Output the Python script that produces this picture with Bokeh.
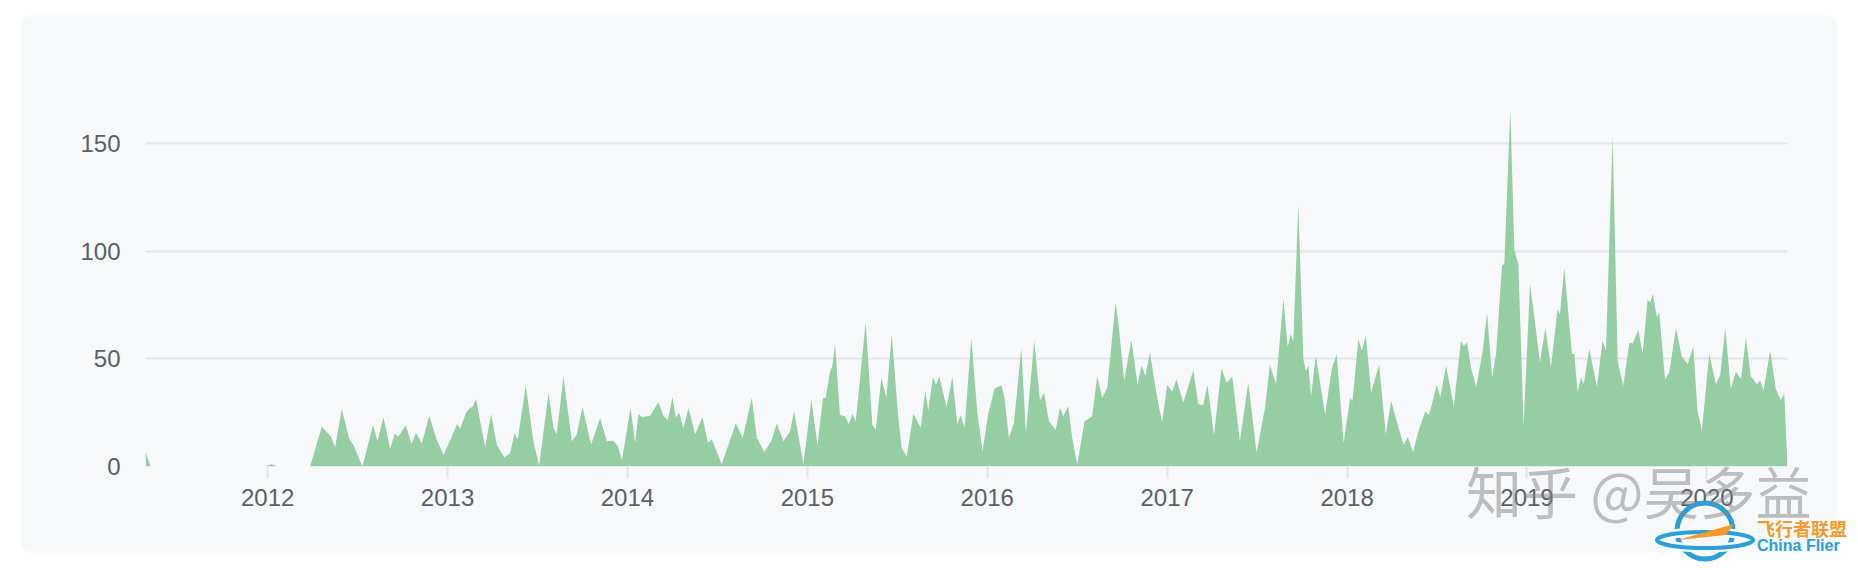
from bokeh.plotting import figure
from bokeh.models import FixedTicker, Div
from bokeh.layouts import column
from bokeh.embed import file_html
from bokeh.resources import INLINE

# Week position (decimal year) and commits per week
week = [
    2011.321, 2011.349, 2011.980, 2012.022, 2012.058, 2012.236, 2012.301, 2012.332, 2012.351, 2012.375,
    2012.412, 2012.453, 2012.481, 2012.503, 2012.527, 2012.586, 2012.610, 2012.644, 2012.681, 2012.707,
    2012.725, 2012.768, 2012.800, 2012.824, 2012.857, 2012.898, 2012.939, 2012.978, 2013.019, 2013.052,
    2013.071, 2013.102, 2013.125, 2013.138, 2013.159, 2013.181, 2013.209, 2013.242, 2013.274, 2013.316,
    2013.348, 2013.372, 2013.390, 2013.435, 2013.477, 2013.509, 2013.561, 2013.589, 2013.607, 2013.644,
    2013.691, 2013.718, 2013.750, 2013.798, 2013.848, 2013.885, 2013.922, 2013.946, 2013.969, 2014.017,
    2014.043, 2014.061, 2014.080, 2014.126, 2014.172, 2014.200, 2014.224, 2014.250, 2014.269, 2014.287,
    2014.311, 2014.339, 2014.376, 2014.417, 2014.447, 2014.469, 2014.524, 2014.602, 2014.641, 2014.691,
    2014.719, 2014.760, 2014.799, 2014.830, 2014.867, 2014.904, 2014.926, 2014.978, 2015.022, 2015.056,
    2015.087, 2015.102, 2015.126, 2015.139, 2015.154, 2015.181, 2015.209, 2015.231, 2015.250, 2015.269,
    2015.324, 2015.361, 2015.380, 2015.411, 2015.439, 2015.469, 2015.504, 2015.524, 2015.552, 2015.589,
    2015.630, 2015.656, 2015.672, 2015.698, 2015.715, 2015.733, 2015.774, 2015.806, 2015.833, 2015.852,
    2015.874, 2015.911, 2015.944, 2015.974, 2016.004, 2016.041, 2016.078, 2016.096, 2016.120, 2016.148,
    2016.189, 2016.215, 2016.261, 2016.293, 2016.315, 2016.343, 2016.380, 2016.404, 2016.422, 2016.450,
    2016.472, 2016.500, 2016.541, 2016.583, 2016.611, 2016.639, 2016.667, 2016.713, 2016.727, 2016.761,
    2016.801, 2016.835, 2016.857, 2016.879, 2016.904, 2016.941, 2016.972, 2017.000, 2017.028, 2017.052,
    2017.089, 2017.113, 2017.145, 2017.173, 2017.200, 2017.224, 2017.260, 2017.302, 2017.330, 2017.362,
    2017.404, 2017.451, 2017.497, 2017.544, 2017.571, 2017.605, 2017.646, 2017.670, 2017.686, 2017.701,
    2017.729, 2017.757, 2017.770, 2017.785, 2017.800, 2017.826, 2017.878, 2017.915, 2017.942, 2017.981,
    2018.017, 2018.030, 2018.063, 2018.082, 2018.104, 2018.134, 2018.178, 2018.215, 2018.245, 2018.276,
    2018.314, 2018.338, 2018.366, 2018.397, 2018.434, 2018.456, 2018.499, 2018.518, 2018.550, 2018.593,
    2018.633, 2018.648, 2018.667, 2018.689, 2018.717, 2018.754, 2018.778, 2018.806, 2018.828, 2018.861,
    2018.874, 2018.907, 2018.930, 2018.952, 2018.981, 2019.017, 2019.041, 2019.072, 2019.102, 2019.133,
    2019.170, 2019.183, 2019.207, 2019.250, 2019.263, 2019.281, 2019.300, 2019.315, 2019.346, 2019.389,
    2019.420, 2019.439, 2019.476, 2019.504, 2019.535, 2019.569, 2019.587, 2019.619, 2019.643, 2019.670,
    2019.685, 2019.700, 2019.722, 2019.735, 2019.767, 2019.791, 2019.828, 2019.859, 2019.893, 2019.924,
    2019.948, 2019.972, 2020.013, 2020.050, 2020.074, 2020.102, 2020.133, 2020.161, 2020.189, 2020.217,
    2020.244, 2020.278, 2020.296, 2020.315, 2020.352, 2020.383, 2020.411, 2020.430, 2020.448,
]

commits = [
    7, 0, 0, 1, 0, 0, 18.5, 15.7, 14, 9,
    26.7, 13, 9.4, 4.7, 0, 19.3, 11.8, 22.8, 8.3, 15.3,
    13.7, 19.2, 10.2, 15.7, 10.7, 23.6, 12.6, 5.5, 13, 19.7,
    17.6, 25, 27.2, 27.5, 31.4, 21, 9.1, 24.4, 10, 4.2,
    6.3, 15.4, 12.6, 37.7, 11.8, 0.5, 34, 18, 15, 41.7,
    11.8, 15, 27.5, 10.2, 22.5, 11.8, 12, 9.4, 3, 27.2,
    11, 24.4, 23, 23.6, 29.9, 23.6, 21.5, 32.2, 22.8, 25.1,
    18, 27.2, 15, 23, 11, 12.6, 1, 20, 13.4, 31.8,
    13.4, 6.8, 11.8, 20, 11.8, 16.5, 25.7, 1, 31, 10,
    32, 32, 44, 46.7, 57, 24, 23.4, 19.8, 24.5, 21,
    67, 19.5, 17, 41.3, 32, 61.5, 24, 8.6, 4.7, 24.5,
    18, 35.4, 26, 41.6, 38, 41.9, 27.6, 41.6, 19.5, 24,
    18, 59.7, 25.7, 7, 24, 36.3, 37.8, 32, 13.2, 20,
    55, 15.6, 58.4, 30.7, 34.3, 21, 17, 27.3, 23.4, 28,
    13.2, 1, 21, 23.4, 42, 32, 36.6, 76.3, 68, 40,
    59, 38, 47, 42, 53, 33.6, 20.4, 38, 34.8, 40.6,
    29.7, 36, 44.8, 29, 28.6, 38, 14.5, 45.7, 39, 41.7,
    11.8, 39, 6.4, 27.4, 47.3, 38.3, 78, 55.4, 61.6, 58,
    122, 50, 44.5, 46.8, 32.8, 51.5, 24.3, 45.3, 52.3, 11,
    32, 30.5, 59.3, 53.8, 60.8, 34.4, 47.3, 15, 30.5, 21,
    10, 13.7, 6.8, 16.5, 25.5, 24, 38, 32.3, 46.8, 28,
    58.5, 56, 57.7, 46, 36.7, 53.8, 71.7, 41.4, 52.3, 93.5,
    94.2, 166, 100.5, 94.2, 18.8, 85, 69.4, 48.4, 64.4, 46,
    73.3, 70.6, 92.7, 52.3, 52.3, 34.8, 41.4, 38.3, 54.6, 37,
    58.5, 54, 153.7, 49, 37.5, 57.7, 57.2, 63.5, 52.3, 77.6,
    76.4, 80.2, 69.4, 71.7, 40.6, 43.7, 64.4, 51.5, 47.6, 55.7,
    25.8, 16.8, 52.3, 38.3, 42.6, 64.4, 36, 44.2, 40.6, 59.7,
    42, 38.3, 40, 35.5, 53.8, 36, 30.8, 33.9, 0,
]

year_ticks = [2012, 2013, 2014, 2015, 2016, 2017, 2018, 2019, 2020]
year_labels = ["2012", "2013", "2014", "2015", "2016", "2017", "2018", "2019", "2020"]
value_ticks = [0, 50, 100, 150]

LABEL_COLOR = "#586069"
GRID_COLOR = "#e1e4e8"
FONT = "Liberation Sans"

p = figure(
    width=1816, height=538,
    output_backend="svg", toolbar_location=None,
    x_range=(min(week), max(week)), y_range=(0, 170.2),
    min_border_left=124, min_border_right=50,
    min_border_top=85, min_border_bottom=87,
)
p.border_fill_color = "#f6f8fa"
p.border_fill_alpha = 0
p.background_fill_color = "#f6f8fa"
p.background_fill_alpha = 0
p.outline_line_color = None
p.styles = {
    "margin-left": "21px",
    "margin-top": "15px",
    "background-color": "#f6f8fa",
    "border-radius": "12px",
    "overflow": "hidden",
}

p.varea(x=week, y1=0, y2=commits, fill_color="#94cea2", fill_alpha=1.0)

# x axis
xa = p.xaxis[0]
xa.ticker = FixedTicker(ticks=year_ticks)
xa.major_label_overrides = {t: l for t, l in zip(year_ticks, year_labels)}
xa.axis_line_color = None
xa.major_tick_line_color = GRID_COLOR
xa.major_tick_line_width = 2
xa.major_tick_in = 0
xa.major_tick_out = 12
xa.minor_tick_line_color = None
xa.major_label_text_font = FONT
xa.major_label_text_font_size = "24px"
xa.major_label_text_color = LABEL_COLOR
xa.major_label_standoff = 10

# y axis
ya = p.yaxis[0]
ya.ticker = FixedTicker(ticks=value_ticks)
ya.axis_line_color = None
ya.major_tick_line_color = None
ya.minor_tick_line_color = None
ya.major_tick_in = 0
ya.major_tick_out = 0
ya.major_label_text_font = FONT
ya.major_label_text_font_size = "24px"
ya.major_label_text_color = LABEL_COLOR
ya.major_label_standoff = 25

p.xgrid.grid_line_color = None
p.ygrid.grid_line_color = GRID_COLOR
p.ygrid.grid_line_width = 2

# watermark present in the picture (drawn over the lower right of the card)
wm_html = (
    '<div style="position:relative;width:418px;height:105px;">'
    '<svg style="position:absolute;left:0;top:0;" width="418" height="105">'
    '<circle cx="265" cy="71" r="28" fill="none" stroke="#2a9fd8" stroke-width="5"/>'
    '<ellipse cx="265" cy="80" rx="48" ry="8" fill="none" stroke="#f6f8fa" stroke-width="9"/>'
    '<ellipse cx="265" cy="80" rx="48" ry="8" fill="none" stroke="#2a9fd8" stroke-width="4"/>'
    '<path d="M 238 80 L 294 64 L 286 75 Z" fill="#f39a2b"/>'
    '</svg>'
    '<span style="position:absolute;left:26px;top:2px;font-family:\'Noto Sans CJK SC\';'
    'font-size:56px;line-height:56px;color:rgba(130,130,130,0.5);white-space:nowrap;">知乎 @吴多益</span>'
    '<span style="position:absolute;left:317px;top:60px;font-family:\'Noto Sans CJK SC\';'
    'font-size:18px;line-height:17px;font-weight:bold;color:#f39a2b;white-space:nowrap;">飞行者联盟</span>'
    '<span style="position:absolute;left:317px;top:79px;font-family:\'Liberation Sans\';'
    'font-size:16px;line-height:14px;font-weight:bold;color:#2a9fd8;white-space:nowrap;">China Flier</span>'
    '</div>'
)
wm = Div(text=wm_html, width=418, height=105,
         styles={"margin-top": "-93px", "margin-left": "1440px",
                 "position": "relative", "z-index": "10"})

root = column(p, wm)

open("out.html", "w").write(file_html(root, INLINE))
